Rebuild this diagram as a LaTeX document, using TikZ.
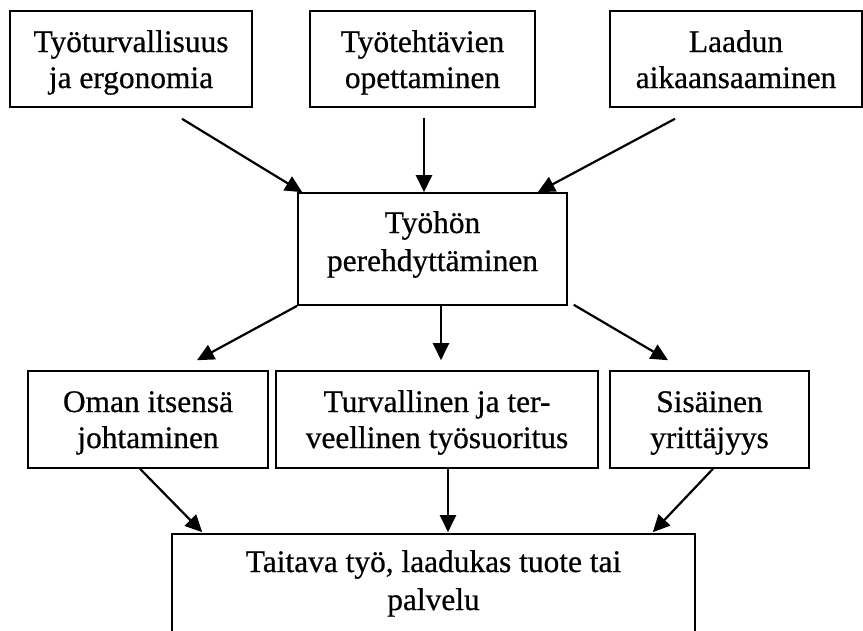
\documentclass[tikz,border=0pt]{standalone}
\usepackage{fontspec}
\setmainfont{Liberation Serif}
\newfontfamily\labelfont[FakeBold=0.6]{Liberation Serif}
\usetikzlibrary{arrows.meta,calc}

% text height/depth fix where the last baseline sits within each box
\tikzset{
  box/.style={draw, line width=1.6pt, inner sep=0pt, align=center,
    text height=64pt, text depth=6pt,
    font=\labelfont\fontsize{31.4}{36}\selectfont},
  flow/.style={line width=2.2pt, -{Triangle[length=17pt,width=16pt]}}
}

\begin{document}
\begin{tikzpicture}[x=1pt, y=-1pt]
  \useasboundingbox (0,0) rectangle (863,630);

  % top row: inputs
  \node[box, minimum width=242pt, minimum height=96pt] (b1) at (131,59)
    {Työturvallisuus\\ja ergonomia};
  \node[box, minimum width=225pt, minimum height=96pt] (b2) at (422.5,59)
    {Työtehtävien\\opettaminen};
  \node[box, minimum width=252pt, minimum height=96pt] (b3) at (736,59)
    {Laadun\\aikaansaaminen};

  % central box
  \node[box, minimum width=269pt, minimum height=112pt, text height=50pt,
        font=\labelfont\fontsize{31.4}{38}\selectfont] (mid) at (432.5,249)
    {Työhön\\perehdyttäminen};

  % third row: outcomes
  \node[box, minimum width=240pt, minimum height=97pt, text height=63pt] (rA) at (148,419.5)
    {Oman itsensä\\johtaminen};
  \node[box, minimum width=322pt, minimum height=97pt, text height=63pt] (rB) at (437,419.5)
    {Turvallinen ja ter-\\veellinen työsuoritus};
  \node[box, minimum width=199pt, minimum height=97pt, text height=63pt] (rC) at (709.5,419.5)
    {Sisäinen\\yrittäjyys};

  % final result
  \node[box, minimum width=523pt, minimum height=98pt, text height=60pt,
        font=\labelfont\fontsize{31.4}{38}\selectfont] (bot) at (433.5,583)
    {Taitava työ, laadukas tuote tai\\palvelu};

  % arrows into the central box
  \draw[flow] ($(b1.south)+(51,11)$) -- ($(mid.north west)+(5,0)$);
  \draw[flow] ($(b2.south)+(1.5,10)$) -- ($(mid.north)+(-8.5,0)$);
  \draw[flow] ($(b3.south)+(-61,11)$) -- ($(mid.north east)+(-30,0)$);

  % arrows out of the central box
  \draw[flow] (mid.south west) -- ($(rA.north)+(49,-10)$);
  \draw[flow] ($(mid.south)+(8.5,0)$) -- ($(rB.north)+(4,-10)$);
  \draw[flow] ($(mid.south east)+(6,-1)$) -- ($(rC.north)+(-41.5,-10)$);

  % arrows into the final result
  \draw[flow] ($(rA.south)+(-8,0)$) -- ($(bot.north west)+(31,-1)$);
  \draw[flow] ($(rB.south)+(11,0)$) -- ($(bot.north)+(14.5,-1)$);
  \draw[flow] ($(rC.south)+(3.5,0)$) -- ($(bot.north east)+(-43,-1)$);
\end{tikzpicture}
\end{document}
